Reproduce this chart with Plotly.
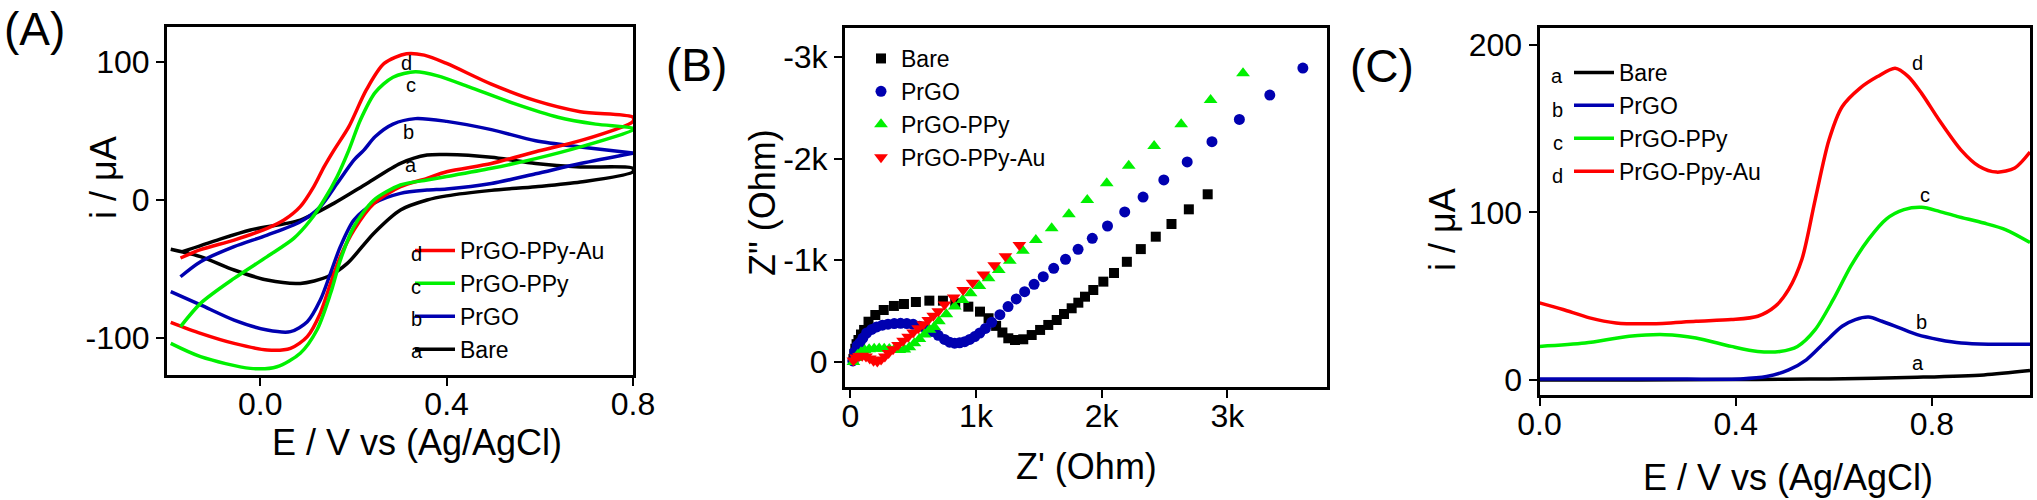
import plotly.graph_objects as go

W, H = 2037, 500
FONT = "Liberation Sans, Arial, sans-serif"

# ---------------- (A) cyclic voltammograms ----------------
cv_names = ["Bare", "PrGO", "PrGO-PPy", "PrGO-PPy-Au"]
cv_letters = ["a", "b", "c", "d"]

cv_bare_e = [-0.167, -0.092, -0.021, 0.086, 0.158, 0.229, 0.301, 0.358, 0.4, 0.496, 0.591, 0.687, 0.8,
             0.8, 0.687, 0.591, 0.496, 0.4, 0.358, 0.301, 0.244, 0.187, 0.144, 0.086, 0.015, -0.056, -0.128, -0.192]
cv_bare_i = [-37.4, -29, -21.7, -14.5, -2.4, 12, 26.6, 32.6, 33, 31, 26.5, 24, 23,
             20.5, 13, 9.6, 7, 3, 0, -7.2, -24, -45.9, -55.6, -60.4, -58, -50.7, -41, -35.7]

cv_prgo_e = [-0.171, -0.128, -0.056, 0.015, 0.086, 0.129, 0.165, 0.201, 0.222, 0.247, 0.285, 0.333, 0.4, 0.496, 0.591, 0.687, 0.8,
             0.8, 0.687, 0.591, 0.496, 0.4, 0.358, 0.301, 0.244, 0.201, 0.172, 0.151, 0.129, 0.101, 0.065, 0.015, -0.056, -0.128, -0.192]
cv_prgo_i = [-55.6, -44.7, -33.8, -25.4, -15.7, -4.8, 12, 29, 36, 46, 55, 59, 57, 51, 43, 38.5, 34,
             34, 26.5, 19, 12, 8, 7.2, 4.8, -2.4, -14.5, -33.8, -53, -72.5, -88.2, -95.4, -94.2, -87, -76, -66.4]

cv_ppy_e = [-0.171, -0.128, -0.056, 0.015, 0.072, 0.108, 0.137, 0.165, 0.19, 0.215, 0.247, 0.285, 0.333, 0.381, 0.448, 0.544, 0.639, 0.72, 0.8,
            0.8, 0.687, 0.591, 0.496, 0.4, 0.358, 0.301, 0.244, 0.201, 0.172, 0.151, 0.122, 0.086, 0.036, -0.021, -0.128, -0.192]
cv_ppy_i = [-91.8, -74.9, -56.8, -41, -27.8, -14.5, 0, 16.9, 36, 58, 78, 89, 93, 90, 82, 70, 60, 55, 52,
            51, 38.5, 30, 23, 17, 14.5, 10.9, 0, -19.3, -43.5, -67.6, -94, -111, -120.8, -122, -113.5, -103.9]

cv_au_e = [-0.171, -0.128, -0.056, 0.015, 0.051, 0.086, 0.115, 0.137, 0.158, 0.19, 0.228, 0.266, 0.314, 0.352, 0.4, 0.496, 0.591, 0.687, 0.8,
           0.8, 0.687, 0.591, 0.496, 0.4, 0.358, 0.301, 0.244, 0.201, 0.172, 0.151, 0.129, 0.101, 0.065, 0.015, -0.056, -0.128, -0.192]
cv_au_i = [-42, -36, -29, -20.5, -14.5, -4.8, 9.7, 24, 36, 53, 80, 99, 106, 105, 99, 84, 72, 64, 60,
           57, 43, 35, 26.5, 20.5, 15.7, 9.7, -2.4, -21.7, -41, -60.4, -82, -99, -107.5, -108.7, -103.9, -96.6, -88.6]

# letter labels near the anodic peaks (E, i)
cv_label_e = [0.324, 0.318, 0.324, 0.313]
cv_label_i = [25.4, 49.3, 83.3, 99.3]

# ---------------- (B) Nyquist plots ----------------
eis_names = ["Bare", "PrGO", "PrGO-PPy", "PrGO-PPy-Au"]

eis_bare_zre = [25, 32, 40, 50, 65, 85, 110, 145, 199, 266, 347, 427, 522, 629, 737, 835, 939, 1032, 1100, 1160,
                1210, 1257, 1310, 1376, 1443, 1510, 1575, 1642, 1700, 1761, 1814, 1867, 1933, 2013, 2098, 2200,
                2311, 2430, 2555, 2693, 2843]
eis_bare_mzim = [30, 80, 130, 175, 216, 270, 315, 396, 462, 511, 551, 570, 590, 603, 603, 577, 544, 495, 430, 355,
                 290, 233, 216, 223, 265, 315, 364, 413, 472, 528, 583, 642, 708, 790, 875, 985,
                 1110, 1232, 1357, 1501, 1649]

eis_prgo_zre = [20, 35, 55, 77, 100, 130, 170, 210, 255, 300, 350, 400, 450, 500, 550, 600, 650, 700, 750, 790,
                830, 870, 910, 950, 990, 1030, 1075, 1125, 1190, 1255, 1320, 1387, 1462, 1535, 1618, 1712, 1812,
                1925, 2046, 2183, 2329, 2494, 2680, 2877, 3095, 3337, 3600]
eis_prgo_mzim = [10, 100, 160, 190, 235, 285, 320, 345, 362, 372, 378, 380, 378, 370, 352, 330, 300, 262, 222, 195,
                 185, 188, 200, 222, 250, 285, 330, 390, 465, 545, 620, 691, 764, 839, 921, 1010, 1108,
                 1216, 1337, 1475, 1622, 1790, 1967, 2166, 2385, 2625, 2890]

eis_ppy_zre = [25, 40, 60, 85, 115, 150, 190, 230, 270, 310, 350, 390, 430, 470, 510, 550, 590, 630, 668, 705,
               764, 831, 893, 957, 1027, 1100, 1181, 1269, 1373, 1476, 1602, 1739, 1885, 2040, 2215, 2417,
               2632, 2866, 3124]
eis_ppy_mzim = [0, 40, 70, 95, 115, 125, 130, 132, 130, 127, 122, 118, 122, 145, 185, 225, 270, 318, 345, 400,
                470, 545, 610, 675, 747, 823, 905, 996, 1093, 1200, 1314, 1452, 1593, 1757, 1930, 2124,
                2337, 2576, 2839]

eis_au_zre = [25, 45, 70, 95, 125, 155, 185, 215, 245, 275, 305, 340, 380, 420, 460, 500, 540, 580, 620, 660,
              700, 750, 823, 898, 973, 1059, 1145, 1234, 1345]
eis_au_mzim = [15, 45, 60, 62, 55, 35, 12, 5, 25, 55, 88, 125, 167, 208, 249, 290, 331, 372, 413, 454,
               500, 565, 635, 708, 780, 860, 950, 1040, 1150]

# ---------------- (C) DPV curves ----------------
dpv_names = ["Bare", "PrGO", "PrGO-PPy", "PrGO-Ppy-Au"]
dpv_letters = ["a", "b", "c", "d"]

dpv_bare_e = [0, 0.2, 0.4, 0.5, 0.59, 0.77, 0.906, 1.0]
dpv_bare_i = [0, 0, 0.2, 0.4, 0.6, 1.6, 3, 5.6]

dpv_prgo_e = [0, 0.1, 0.2, 0.3, 0.41, 0.463, 0.508, 0.544, 0.58, 0.617, 0.644, 0.671, 0.698, 0.734, 0.77,
              0.815, 0.86, 0.915, 1.0]
dpv_prgo_i = [0.5, 0.5, 0.5, 0.5, 0.6, 2, 6, 12, 22, 32, 36, 37.5, 35, 31, 27, 24, 22, 21.3, 21.3]

dpv_ppy_e = [0, 0.093, 0.183, 0.256, 0.319, 0.391, 0.445, 0.49, 0.526, 0.562, 0.599, 0.635, 0.671, 0.707,
             0.743, 0.779, 0.815, 0.851, 0.906, 0.951, 1.0]
dpv_ppy_i = [20, 22, 26, 27, 25, 20, 17, 17, 20, 30, 48, 68, 84, 96, 101.6, 103, 100.6, 97.6, 93.6, 89.6, 82]

dpv_au_e = [0, 0.048, 0.102, 0.156, 0.228, 0.319, 0.391, 0.445, 0.481, 0.508, 0.535, 0.562, 0.59, 0.617,
            0.653, 0.689, 0.725, 0.752, 0.779, 0.815, 0.86, 0.896, 0.932, 0.969, 1.0]
dpv_au_i = [46, 42, 37, 34, 33.5, 35, 36, 38, 44, 54, 72, 107.5, 143, 163, 174, 181, 186, 181, 171, 155,
            137, 127.5, 124, 126.5, 136]

dpv_label_e = [0.771, 0.779, 0.785, 0.771]
dpv_label_i = [10.1, 34.6, 110.4, 189.3]

colors = ["#000000", "#0000b0", "#00f000", "#ff0000"]


def px(x, y):
    """pixel position -> paper fraction"""
    return x / W, 1 - y / H


fig = go.Figure()

# (A)
cv_e = [cv_bare_e, cv_prgo_e, cv_ppy_e, cv_au_e]
cv_i = [cv_bare_i, cv_prgo_i, cv_ppy_i, cv_au_i]
for k in [0, 1, 3, 2]:
    fig.add_trace(go.Scatter(x=cv_e[k], y=cv_i[k], mode="lines", name=cv_names[k],
                             line=dict(color=colors[k], width=3.5, shape="spline", smoothing=0.8),
                             xaxis="x", yaxis="y", legend="legend", legendrank=4 - k))

# (B)
eis_x = [eis_bare_zre, eis_prgo_zre, eis_ppy_zre, eis_au_zre]
eis_y = [eis_bare_mzim, eis_prgo_mzim, eis_ppy_mzim, eis_au_mzim]
symbols = ["square", "circle", "triangle-up", "triangle-down"]
msizes = [10, 11, 12, 12]
for k in range(4):
    fig.add_trace(go.Scatter(x=eis_x[k], y=[-v for v in eis_y[k]], mode="markers", name=eis_names[k],
                             marker=dict(color=colors[k], symbol=symbols[k], size=msizes[k]),
                             xaxis="x2", yaxis="y2", legend="legend2"))

# (C)
dpv_e = [dpv_bare_e, dpv_prgo_e, dpv_ppy_e, dpv_au_e]
dpv_i = [dpv_bare_i, dpv_prgo_i, dpv_ppy_i, dpv_au_i]
for k in range(4):
    fig.add_trace(go.Scatter(x=dpv_e[k], y=dpv_i[k], mode="lines", name=dpv_names[k],
                             line=dict(color=colors[k], width=3.5, shape="spline", smoothing=0.8),
                             xaxis="x3", yaxis="y3", legend="legend3"))

ax = dict(showline=True, mirror=True, linecolor="black", linewidth=3, showgrid=False, zeroline=False,
          ticks="outside", ticklen=8, tickwidth=2, tickcolor="black", automargin=False,
          tickfont=dict(family=FONT, size=32, color="black"))
xax = dict(ax, ticklabelstandoff=-9)

fig.update_layout(
    template="none",
    width=W, height=H, autosize=False,
    margin=dict(l=0, r=0, t=0, b=0, pad=0, autoexpand=False),
    paper_bgcolor="white", plot_bgcolor="white",
    font=dict(family=FONT, color="black"),
    xaxis=dict(xax, domain=[167 / W, 633 / W], range=[-0.2, 0.8], anchor="y",
               tickvals=[0, 0.4, 0.8], ticktext=["0.0", "0.4", "0.8"]),
    yaxis=dict(ax, domain=[1 - 375 / H, 1 - 27 / H], range=[-126.8, 125.4], anchor="x",
               tickvals=[-100, 0, 100], ticktext=["-100", "0", "100"]),
    xaxis2=dict(xax, domain=[845 / W, 1327 / W], range=[-42, 3792], anchor="y2",
                tickvals=[0, 1000, 2000, 3000], ticktext=["0", "1k", "2k", "3k"]),
    yaxis2=dict(ax, domain=[1 - 387 / H, 1 - 28 / H], range=[246, -3284], anchor="x2",
                tickvals=[0, -1000, -2000, -3000], ticktext=["0", "-1k", "-2k", "-3k"]),
    xaxis3=dict(xax, domain=[1539.5 / W, 2030 / W], range=[0, 1.0], anchor="y3",
                tickvals=[0, 0.4, 0.8], ticktext=["0.0", "0.4", "0.8"]),
    yaxis3=dict(ax, domain=[1 - 395 / H, 1 - 28 / H], range=[-9, 210], anchor="x3",
                tickvals=[0, 100, 200], ticktext=["0", "100", "200"]),
    legend=dict(x=px(410, 0)[0], y=px(0, 229)[1], xanchor="left", yanchor="top", itemwidth=40,
                bgcolor="rgba(0,0,0,0)", font=dict(family=FONT, size=23)),
    legend2=dict(x=px(861, 0)[0], y=px(0, 37)[1], xanchor="left", yanchor="top",
                 bgcolor="rgba(0,0,0,0)", font=dict(family=FONT, size=23)),
    legend3=dict(x=px(1569, 0)[0], y=px(0, 51)[1], xanchor="left", yanchor="top", itemwidth=40,
                 bgcolor="rgba(0,0,0,0)", font=dict(family=FONT, size=23)),
)

ann = []
# panel labels
for lab, (x, y) in zip(["(A)", "(B)", "(C)"], [(34, 29), (696, 65), (1382, 66)]):
    ax_, ay_ = px(x, y)
    ann.append(dict(text=lab, x=ax_, y=ay_, xref="paper", yref="paper", showarrow=False,
                    xanchor="center", yanchor="middle", font=dict(family=FONT, size=46)))

# axis titles
titles = [("E / V vs (Ag/AgCl)", 417, 442, 0), ("i / \u03bcA", 103, 178, -90),
          ("Z' (Ohm)", 1086, 466, 0), ('Z" (Ohm)', 762, 203, -90),
          ("E / V vs (Ag/AgCl)", 1788, 477, 0), ("i / \u03bcA", 1443, 230, -90)]
for t, x, y, ang in titles:
    ax_, ay_ = px(x, y)
    ann.append(dict(text=t, x=ax_, y=ay_, xref="paper", yref="paper", showarrow=False, textangle=ang,
                    xanchor="center", yanchor="middle", font=dict(family=FONT, size=36)))

# curve letters
for k in range(4):
    ann.append(dict(text=cv_letters[k], x=cv_label_e[k], y=cv_label_i[k], xref="x", yref="y",
                    showarrow=False, font=dict(family=FONT, size=20)))
    ann.append(dict(text=dpv_letters[k], x=dpv_label_e[k], y=dpv_label_i[k], xref="x3", yref="y3",
                    showarrow=False, font=dict(family=FONT, size=20)))

# letters in front of the legend entries
for lab, y in zip(["d", "c", "b", "a"], [254, 287, 319, 351]):
    ax_, ay_ = px(409, y)
    ann.append(dict(text=lab, x=ax_, y=ay_, xref="paper", yref="paper", showarrow=False,
                    yanchor="middle", font=dict(family=FONT, size=20)))
for lab, y in zip(["a", "b", "c", "d"], [76, 110, 143, 176]):
    ax_, ay_ = px(1565, y)
    ann.append(dict(text=lab, x=ax_, y=ay_, xref="paper", yref="paper", showarrow=False,
                    yanchor="middle", font=dict(family=FONT, size=20)))

fig.update_layout(annotations=ann)

fig.write_html("out.html", config={"displayModeBar": False},
               post_script="document.body.style.margin='0';")
